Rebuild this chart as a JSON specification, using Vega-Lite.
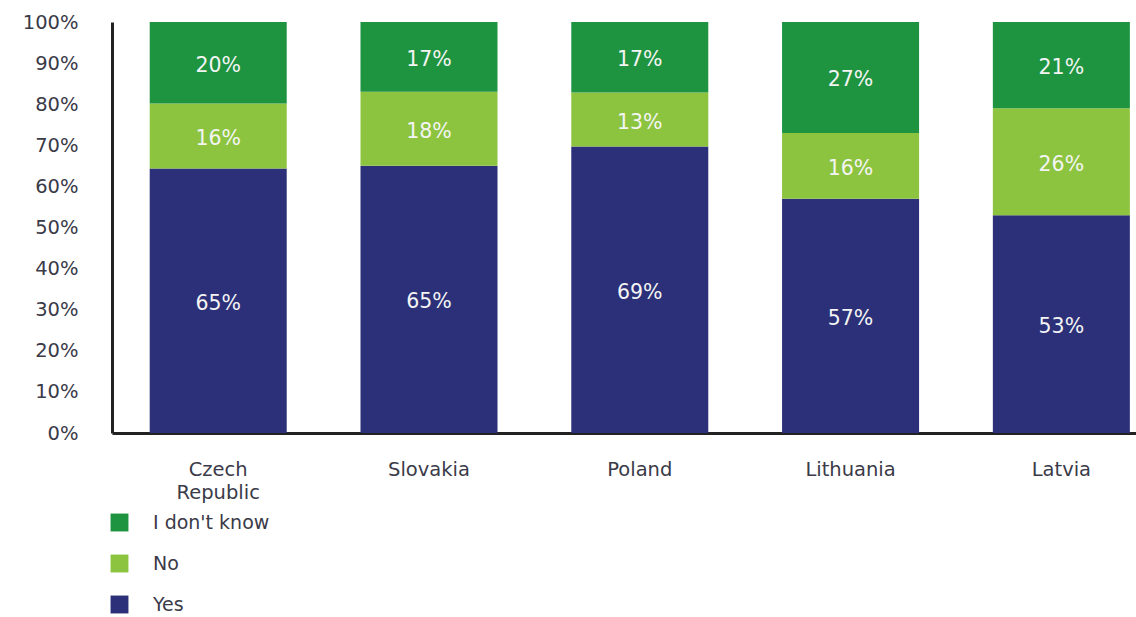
{
  "$schema": "https://vega.github.io/schema/vega-lite/v6.json",
  "width": 1024,
  "height": 411,
  "autosize": "none",
  "padding": {"left": 112, "top": 22, "right": 0, "bottom": 184},
  "background": "white",
  "config": {"view": {"stroke": null}, "font": "DejaVu Sans"},
  "data": {
    "values": [
      {"country": "Czech Republic", "answer": "Yes", "k": 1, "value": 65},
      {"country": "Czech Republic", "answer": "No", "k": 2, "value": 16},
      {"country": "Czech Republic", "answer": "I don't know", "k": 3, "value": 20},
      {"country": "Slovakia", "answer": "Yes", "k": 1, "value": 65},
      {"country": "Slovakia", "answer": "No", "k": 2, "value": 18},
      {"country": "Slovakia", "answer": "I don't know", "k": 3, "value": 17},
      {"country": "Poland", "answer": "Yes", "k": 1, "value": 69},
      {"country": "Poland", "answer": "No", "k": 2, "value": 13},
      {"country": "Poland", "answer": "I don't know", "k": 3, "value": 17},
      {"country": "Lithuania", "answer": "Yes", "k": 1, "value": 57},
      {"country": "Lithuania", "answer": "No", "k": 2, "value": 16},
      {"country": "Lithuania", "answer": "I don't know", "k": 3, "value": 27},
      {"country": "Latvia", "answer": "Yes", "k": 1, "value": 53},
      {"country": "Latvia", "answer": "No", "k": 2, "value": 26},
      {"country": "Latvia", "answer": "I don't know", "k": 3, "value": 21}
    ]
  },
  "encoding": {
    "x": {
      "field": "country", "type": "nominal", "sort": null,
      "scale": {"paddingInner": 0.35, "paddingOuter": 0.104, "align": 0.86},
      "axis": {
        "title": null, "labelAngle": 0, "ticks": false,
        "domainColor": "#222", "domainWidth": 3,
        "labelFontSize": 19.5, "labelColor": "#3a3a48", "labelPadding": 27,
        "labelLineHeight": 23, "labelOverlap": false,
        "labelExpr": "split(datum.label, ' ')"
      }
    },
    "y": {
      "field": "value", "type": "quantitative", "stack": "normalize",
      "axis": {
        "title": null, "format": ".0%", "values": [0,0.1,0.2,0.3,0.4,0.5,0.6,0.7,0.8,0.9,1],
        "grid": false, "ticks": false, "labelOverlap": false,
        "domainColor": "#222", "domainWidth": 3,
        "labelFontSize": 19.5, "labelColor": "#3a3a48", "labelPadding": 34
      }
    },
    "order": {"field": "k", "type": "quantitative"}
  },
  "layer": [
    {
      "mark": {"type": "bar"},
      "encoding": {
        "color": {
          "field": "answer", "type": "nominal",
          "scale": {"domain": ["I don't know", "No", "Yes"], "range": ["#1e9440", "#8cc43f", "#2b3078"]},
          "legend": {
            "title": null, "orient": "none", "legendX": -2, "legendY": 491,
            "direction": "vertical", "symbolType": "square", "symbolSize": 320,
            "labelFontSize": 19, "labelColor": "#3a3a48", "rowPadding": 21,
            "labelOffset": 24, "symbolStrokeWidth": 0
          }
        }
      }
    },
    {
      "mark": {"type": "text", "fontSize": 20.5, "color": "#f4f4f4", "dy": 3, "text": {"expr": "datum.value + '%'"}},
      "encoding": {
        "y": {"field": "value", "type": "quantitative", "stack": "normalize", "bandPosition": 0.5}
      }
    }
  ]
}
